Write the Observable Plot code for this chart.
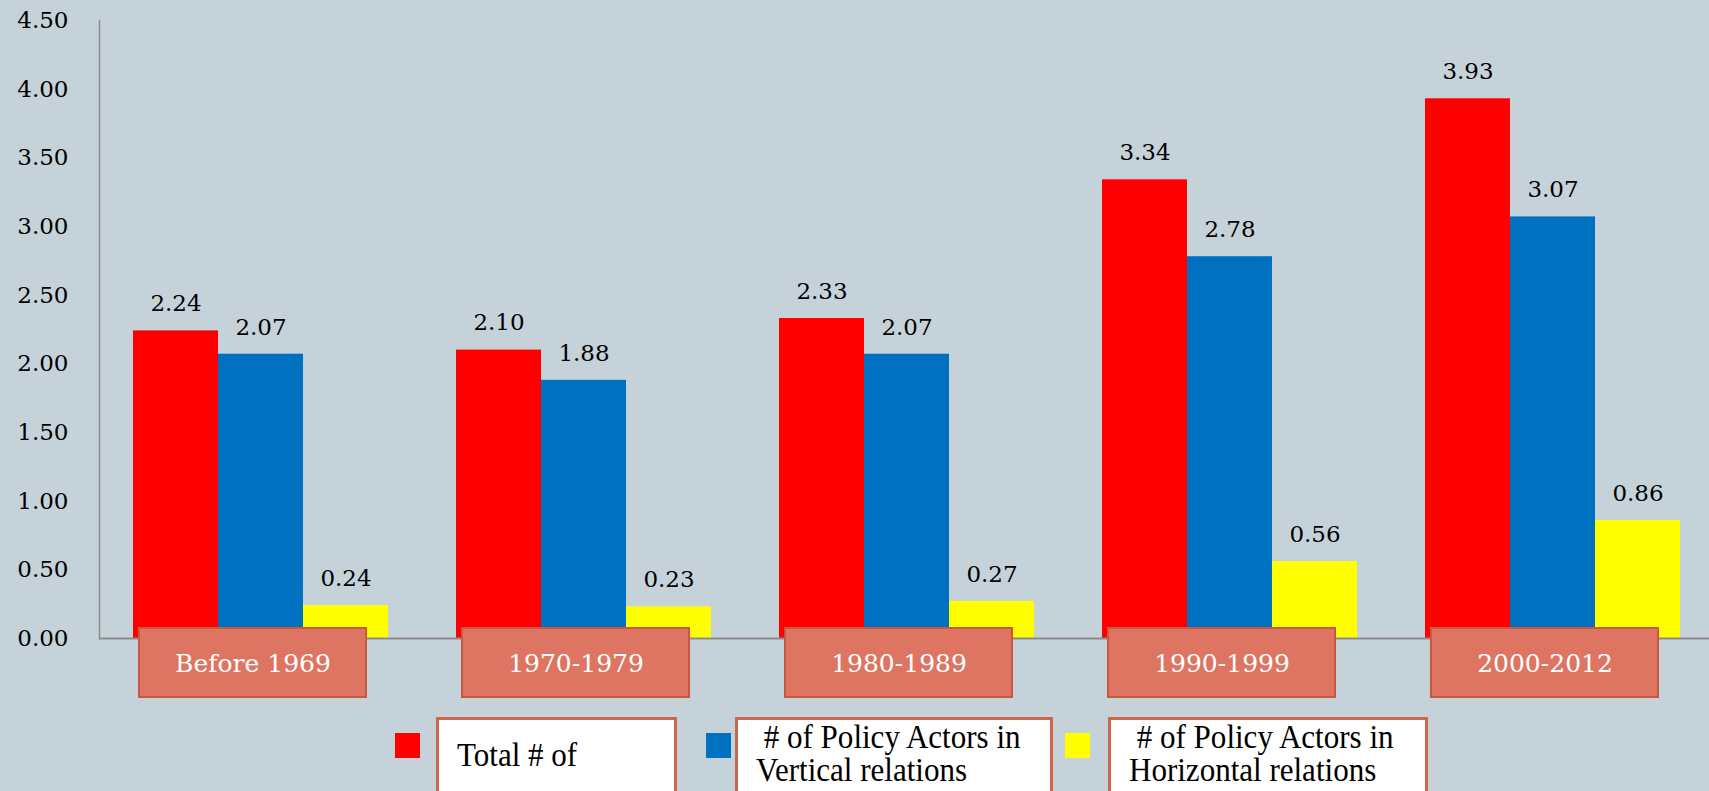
<!DOCTYPE html>
<html>
<head>
<meta charset="utf-8">
<script src="https://cdn.jsdelivr.net/npm/d3@7"></script>
<script src="https://cdn.jsdelivr.net/npm/@observablehq/plot@0.6"></script>
<style>
  html, body { margin: 0; padding: 0; background: #c6d2d9; width: 1709px; height: 791px; overflow: hidden; }
  #chart svg { display: block; }
  #legend { position: relative; width: 1709px; height: 79px; overflow: hidden; }
  .sw { position: absolute; top: 21px; width: 25px; height: 25px; }
  .lb { position: absolute; top: 5px; height: 95px; background: #fff; border: 3px solid #d0654e;
        box-sizing: border-box; font-family: "Liberation Serif", serif; font-size: 33px; line-height: 33px;
        color: #000; white-space: pre; padding-left: 18px; }
  .lb div { transform: scaleX(0.94); transform-origin: 0 0; }
</style>
</head>
<body>
<div id="chart"></div>
<div id="legend"></div>
<script>
// ---- data ----
const periods = ["Before 1969", "1970-1979", "1980-1989", "1990-1999", "2000-2012"];
const series = ["Total # of Policy Actors", "# of Policy Actors in Vertical relations", "# of Policy Actors in Horizontal relations"];
const totalActors = [2.24, 2.10, 2.33, 3.34, 3.93];
const verticalActors = [2.07, 1.88, 2.07, 2.78, 3.07];
const horizontalActors = [0.24, 0.23, 0.27, 0.56, 0.86];
const seriesColors = ["#ff0000", "#0070c0", "#ffff00"];
const yTicks = [0, 0.5, 1, 1.5, 2, 2.5, 3, 3.5, 4, 4.5];
const legendLines = [["Total # of"], [" # of Policy Actors in", "Vertical relations"], [" # of Policy Actors in", "Horizontal relations"]];

const valuesBySeries = [totalActors, verticalActors, horizontalActors];
const data = periods.flatMap((p, i) => series.map((s, j) => ({period: p, series: s, value: valuesBySeries[j][i]})));

const axisGray = "#8c8c8c";

const chart = Plot.plot({
  width: 1709,
  height: 712,
  marginTop: 20,
  marginBottom: 74,
  marginLeft: 98,
  marginRight: 0,
  style: {background: "#c6d2d9", fontFamily: "'DejaVu Serif', serif", fontSize: "23px", color: "#000", overflow: "hidden"},
  fx: {domain: periods, range: [98, 1715], padding: 0, axis: null},
  x: {domain: series, paddingInner: 0, paddingOuter: 0.381, axis: null},
  y: {domain: [0, 4.5], ticks: yTicks, tickFormat: d3.format(".2f"), tickSize: 0, tickPadding: 31, label: null},
  color: {domain: series, range: seriesColors},
  marks: [
    Plot.frame({anchor: "left", facetAnchor: "left", stroke: axisGray, strokeWidth: 1.5}),
    Plot.barY(data, {fx: "period", x: "series", y: "value", fill: "series"}),
    Plot.ruleY([0], {stroke: axisGray, strokeWidth: 2}),
    Plot.text(data, {fx: "period", x: "series", y: "value", text: d => d.value.toFixed(2), dy: -27, lineAnchor: "middle", fill: "#000"}),
    Plot.rect(periods, {fx: d => d, fill: "#dd7562", stroke: "#c8583f", strokeWidth: 2,
      insetTop: 608, insetBottom: -59, insetLeft: 40, insetRight: 56}),
    Plot.text(periods, {fx: d => d, text: d => d, frameAnchor: "bottom", lineAnchor: "middle", dy: 25, dx: -8, fill: "#fff", fontSize: 25})
  ]
});
document.getElementById("chart").appendChild(chart);

// ---- legend (squares partly covered by white text boxes, as in the original) ----
const legendLayout = [
  {sw: 395, box: 436, w: 241, pad: 19},
  {sw: 706, box: 735, w: 318, pad: 1},
  {sw: 1065, box: 1108, w: 320, pad: 1}
];
const legend = d3.select("#legend");
series.forEach((s, i) => {
  const L = legendLayout[i];
  legend.append("div").attr("class", "sw").style("left", L.sw + "px").style("background", seriesColors[i]).attr("title", s);
  const b = legend.append("div").attr("class", "lb").style("left", L.box + "px").style("width", L.w + "px").style("padding-top", L.pad + "px");
  legendLines[i].forEach(t => b.append("div").text(t));
});
</script>
</body>
</html>
